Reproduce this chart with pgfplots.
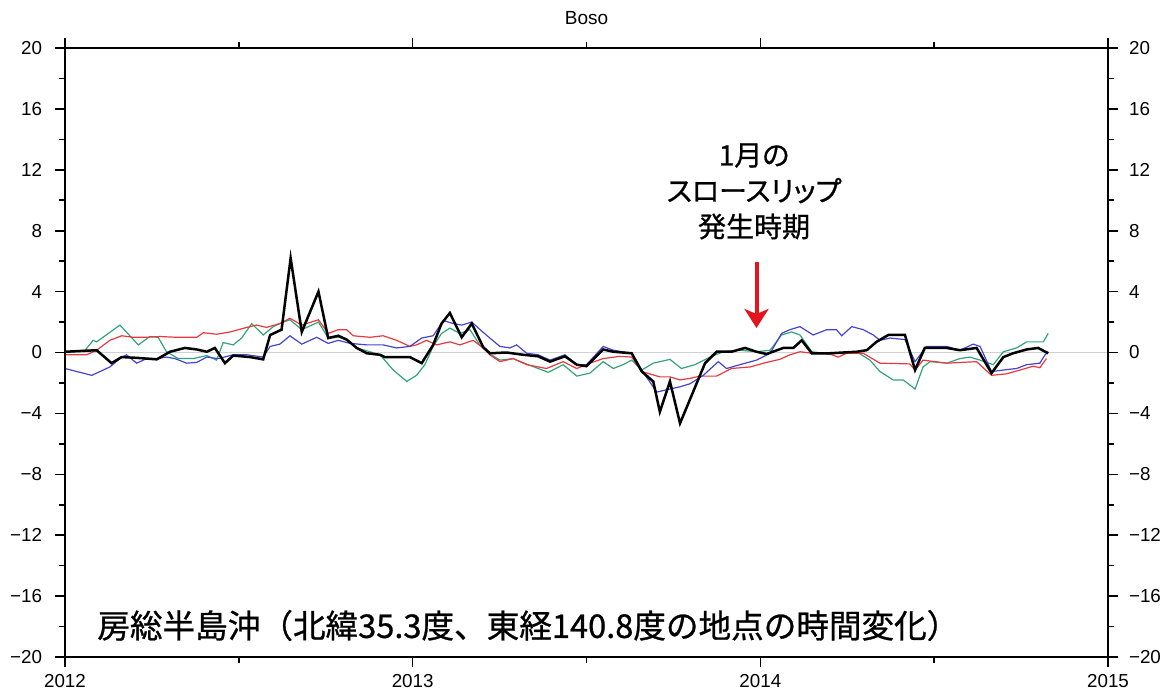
\documentclass[border=0pt]{standalone}
\usepackage{pgfplots}
\pgfplotsset{compat=1.18}
\usepackage{fontspec}
\setmainfont{Liberation Sans}
\newfontfamily\jp[FakeBold=0.8]{Noto Sans CJK JP}
\newfontfamily\jpp[RawFeature=+palt,FakeBold=0.8]{Noto Sans CJK JP}
\usetikzlibrary{arrows.meta}
\definecolor{cgreen}{HTML}{33A37A}
\definecolor{cred}{HTML}{E8393F}
\definecolor{cblue}{HTML}{4444D0}
\definecolor{arrred}{HTML}{E3141E}
\pgfplotsset{common/.style={
  width=521.5pt,height=304.5pt,scale only axis,
  at={(32.5pt,18pt)},anchor=south west,
  xmin=2012,xmax=2015,ymin=-20,ymax=20,
  xtick={2012,2013,2014,2015},xticklabels={2012,2013,2014,2015},
  minor xtick={2012.5,2013.5,2014.5},
  ytick={-20,-16,-12,-8,-4,0,4,8,12,16,20},
  yticklabels={−20,−16,−12,−8,−4,0,4,8,12,16,20},
  minor y tick num=1,
  tick align=outside,
  major tick length=5pt, minor tick length=2.8pt,
  tick style={black,line width=0.8pt},
  axis line style={line width=1pt},
  ticklabel style={font=\fontsize{9.4}{10}\selectfont},
}}
\begin{document}
\begin{tikzpicture}
\useasboundingbox (0,0) rectangle (585.5pt,346.5pt);
\begin{axis}[common,yticklabel style={xshift=-3pt},
  title={Boso},title style={at={(0.5,1)},anchor=base,yshift=6pt,font=\fontsize{9.5}{10}\selectfont}]
\addplot[color=black!18,line width=0.5pt] coordinates {(2012,0) (2015,0)};
% green
\addplot[color=cgreen,line width=0.6pt] coordinates {
(2012.000,0) (2012.058,0.15) (2012.081,0.8) (2012.091,0.7) (2012.158,1.8) (2012.211,0.5)
(2012.244,1.05) (2012.268,1.0) (2012.292,0.05) (2012.326,-0.4) (2012.369,-0.4) (2012.408,-0.2)
(2012.436,-0.5) (2012.455,0.65) (2012.484,0.5) (2012.508,0.95) (2012.537,1.9) (2012.570,1.15)
(2012.599,1.7) (2012.618,1.9) (2012.647,2.15) (2012.681,1.5) (2012.729,2.0) (2012.757,0.95)
(2012.791,1.0) (2012.820,0.7) (2012.839,0.3) (2012.877,0.05) (2012.906,-0.15) (2012.944,-1.15)
(2012.983,-1.9) (2013.011,-1.5) (2013.035,-0.8) (2013.059,0.4) (2013.083,1.25) (2013.107,1.6)
(2013.136,1.25) (2013.165,1.5) (2013.194,0.45) (2013.222,-0.1) (2013.251,-0.5) (2013.289,-0.4)
(2013.332,-0.8) (2013.390,-1.3) (2013.433,-0.8) (2013.472,-1.55) (2013.510,-1.35) (2013.548,-0.6)
(2013.577,-1.05) (2013.605,-0.8) (2013.630,-0.5) (2013.659,-1.15) (2013.692,-0.7) (2013.740,-0.45)
(2013.773,-1.05) (2013.812,-0.8) (2013.855,-0.3) (2013.893,0.05) (2013.941,0.15) (2013.989,0.05)
(2014.028,0.15) (2014.061,1.15) (2014.090,1.35) (2014.114,1.15) (2014.148,0.05) (2014.200,-0.1)
(2014.277,0.05) (2014.315,-0.5) (2014.344,-1.25) (2014.382,-1.8) (2014.411,-1.8) (2014.445,-2.4)
(2014.468,-0.95) (2014.488,-0.6) (2014.536,-0.7) (2014.574,-0.4) (2014.603,-0.3) (2014.632,-0.5)
(2014.670,-0.8) (2014.699,0.05) (2014.737,0.3) (2014.766,0.7) (2014.814,0.7) (2014.828,1.25)};
% red
\addplot[color=cred,line width=0.6pt] coordinates {
(2012.000,-0.15) (2012.062,-0.15) (2012.091,0.15) (2012.129,0.8) (2012.163,1.1) (2012.196,1.0)
(2012.235,1.0) (2012.273,1.05) (2012.321,1.0) (2012.379,1.0) (2012.398,1.3) (2012.436,1.2)
(2012.475,1.35) (2012.523,1.65) (2012.551,1.8) (2012.580,1.65) (2012.618,1.9) (2012.647,2.25)
(2012.681,1.8) (2012.729,2.15) (2012.757,1.25) (2012.786,1.5) (2012.810,1.5) (2012.829,1.1)
(2012.877,1.0) (2012.915,1.1) (2012.954,0.8) (2012.992,0.4) (2013.011,0.5) (2013.040,0.8)
(2013.069,0.5) (2013.107,0.7) (2013.136,0.5) (2013.174,0.8) (2013.203,0.3) (2013.222,-0.15)
(2013.251,-0.6) (2013.289,-0.4) (2013.328,-0.8) (2013.385,-1.05) (2013.433,-0.6) (2013.472,-1.05)
(2013.510,-0.7) (2013.548,-0.4) (2013.596,-0.25) (2013.630,-0.3) (2013.659,-1.25) (2013.711,-1.6)
(2013.740,-1.6) (2013.769,-1.8) (2013.798,-1.7) (2013.826,-1.55) (2013.874,-1.55) (2013.917,-1.05)
(2013.970,-0.95) (2014.018,-0.65) (2014.056,-0.45) (2014.085,-0.15) (2014.114,0.05) (2014.148,-0.05)
(2014.200,-0.1) (2014.224,-0.3) (2014.248,-0.05) (2014.296,-0.05) (2014.344,-0.7) (2014.430,-0.75)
(2014.445,-1.15) (2014.468,-0.5) (2014.536,-0.7) (2014.622,-0.6) (2014.665,-1.5) (2014.708,-1.4)
(2014.747,-1.15) (2014.785,-0.9) (2014.804,-1.0) (2014.823,-0.4)};
% blue
\addplot[color=cblue,line width=0.6pt] coordinates {
(2012.000,-1.05) (2012.034,-1.25) (2012.077,-1.5) (2012.129,-0.95) (2012.158,-0.4) (2012.177,-0.15)
(2012.206,-0.7) (2012.235,-0.4) (2012.264,-0.4) (2012.292,-0.3) (2012.316,-0.4) (2012.350,-0.7)
(2012.379,-0.65) (2012.408,-0.3) (2012.441,-0.4) (2012.484,-0.15) (2012.523,-0.15) (2012.570,-0.3)
(2012.590,0.4) (2012.618,0.55) (2012.647,1.1) (2012.681,0.55) (2012.724,1.0) (2012.757,0.6)
(2012.786,0.8) (2012.820,0.6) (2012.868,0.5) (2012.915,0.5) (2012.954,0.3) (2012.992,0.4)
(2013.026,0.95) (2013.059,1.1) (2013.088,2.1) (2013.117,1.9) (2013.141,1.8) (2013.170,2.0)
(2013.194,1.5) (2013.222,0.95) (2013.251,0.4) (2013.280,0.3) (2013.299,0.5) (2013.328,-0.05)
(2013.361,-0.15) (2013.395,-0.5) (2013.438,-0.15) (2013.472,-0.8) (2013.500,-0.8) (2013.548,0.4)
(2013.577,0.15) (2013.630,-0.05) (2013.659,-1.15) (2013.702,-2.6) (2013.730,-2.45) (2013.769,-2.25)
(2013.798,-2.05) (2013.836,-1.5) (2013.879,-0.6) (2013.903,-1.05) (2013.941,-0.8) (2013.989,-0.5)
(2014.028,-0.05) (2014.061,1.25) (2014.085,1.5) (2014.114,1.7) (2014.152,1.15) (2014.191,1.5)
(2014.219,1.5) (2014.234,1.1) (2014.263,1.7) (2014.296,1.5) (2014.325,1.15) (2014.344,0.8)
(2014.373,0.95) (2014.416,0.85) (2014.445,-0.6) (2014.478,0.4) (2014.536,0.4) (2014.574,0.15)
(2014.612,0.55) (2014.632,0.4) (2014.665,-1.25) (2014.699,-1.15) (2014.737,-1.05) (2014.766,-0.8)
(2014.804,-0.7) (2014.819,-0.15) (2014.828,0.05)};
% black
\addplot[color=black,line width=1.25pt] coordinates {
(2012.000,0.05) (2012.091,0.15) (2012.134,-0.7) (2012.163,-0.3) (2012.206,-0.35) (2012.264,-0.45)
(2012.302,0.05) (2012.345,0.3) (2012.379,0.2) (2012.408,0.05) (2012.431,0.3) (2012.460,-0.7)
(2012.484,-0.2) (2012.532,-0.3) (2012.570,-0.45) (2012.590,1.15) (2012.623,1.5) (2012.649,6.2)
(2012.681,1.35) (2012.729,4.0) (2012.757,0.95) (2012.786,1.1) (2012.810,0.85) (2012.839,0.3)
(2012.868,-0.05) (2012.906,-0.15) (2012.920,-0.3) (2012.963,-0.3) (2012.992,-0.3) (2013.026,-0.7)
(2013.059,0.5) (2013.083,1.9) (2013.107,2.6) (2013.141,1.0) (2013.170,1.9) (2013.203,0.35)
(2013.222,-0.05) (2013.270,0) (2013.318,-0.15) (2013.361,-0.25) (2013.395,-0.6) (2013.438,-0.25)
(2013.472,-0.8) (2013.500,-0.9) (2013.548,0.2) (2013.577,0.05) (2013.630,-0.05) (2013.659,-1.25)
(2013.692,-1.9) (2013.711,-3.9) (2013.740,-1.9) (2013.769,-4.65) (2013.841,-0.7) (2013.874,0.05)
(2013.917,0.05) (2013.956,0.3) (2013.989,0.05) (2014.018,-0.1) (2014.066,0.3) (2014.095,0.3)
(2014.119,0.8) (2014.148,-0.05) (2014.200,-0.05) (2014.277,0.05) (2014.306,0.15) (2014.334,0.7)
(2014.368,1.15) (2014.416,1.15) (2014.445,-1.15) (2014.473,0.3) (2014.536,0.3) (2014.574,0.15)
(2014.622,0.3) (2014.665,-1.35) (2014.699,-0.3) (2014.727,-0.05) (2014.766,0.2) (2014.799,0.3)
(2014.828,-0.05)};
\draw[arrred,line width=2pt,-{Stealth[width=12pt,length=9.5pt,inset=2.5pt]}] (axis cs:2013.989,5.97) -- (axis cs:2013.989,1.61);
\node[font=\jpp\fontsize{14}{17.9}\selectfont,align=center] at (axis cs:2013.982,10.58) {1月の\\スロースリップ\\発生時期};
\node[font=\jp\fontsize{16.3}{18}\selectfont,anchor=west,inner sep=0pt] at (axis cs:2012.092,-17.93) {房総半島沖（北緯35.3度、東経140.8度の地点の時間変化）};
\end{axis}
\begin{axis}[common,hide x axis,yticklabel pos=right,yticklabel style={xshift=2pt}]
\end{axis}
\end{tikzpicture}
\end{document}
